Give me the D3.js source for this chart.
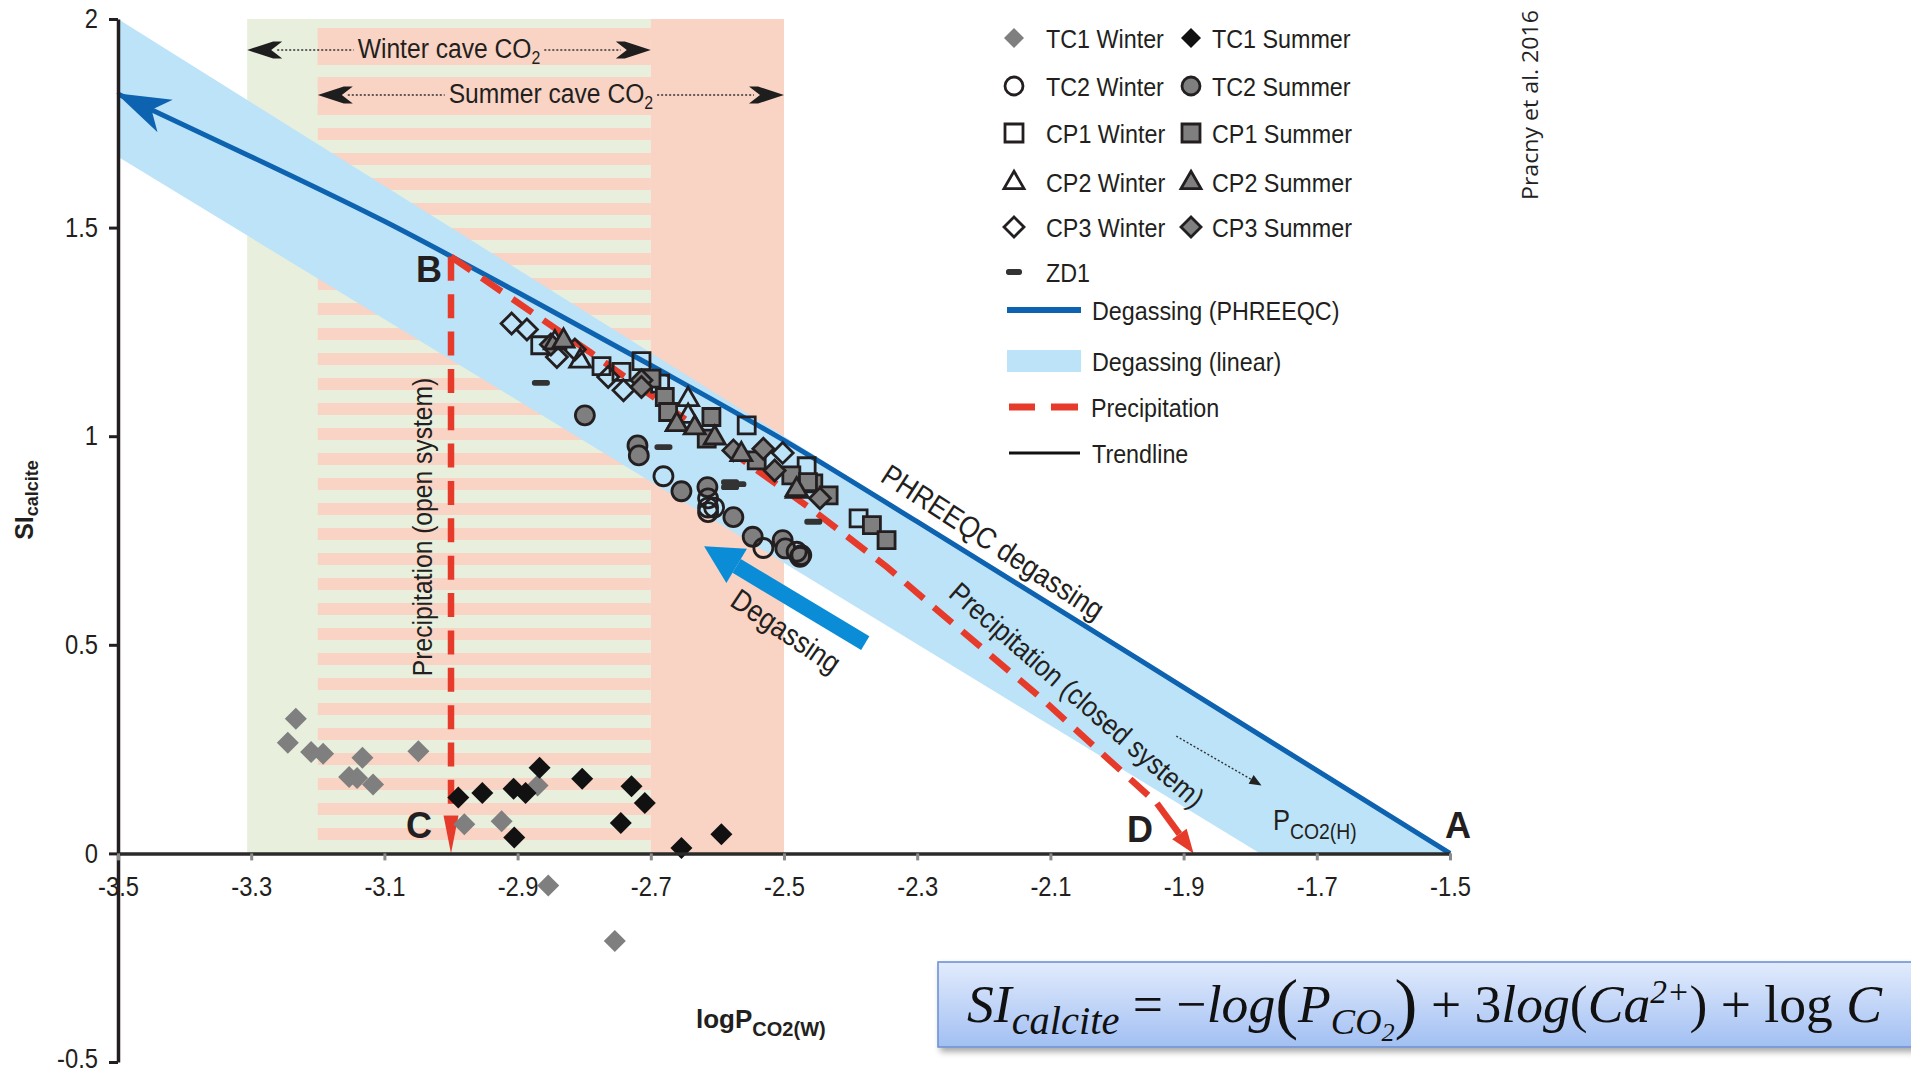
<!DOCTYPE html>
<html><head><meta charset="utf-8">
<script src="https://cdn.jsdelivr.net/npm/d3@7"></script>
<style>
body{margin:0;background:#fff;}
svg{display:block;font-family:"Liberation Sans",Arial,sans-serif;}
</style></head><body>
<svg id="chart" width="1911" height="1073"></svg>
<script>
// ---------------- DATA ----------------
const xTicks = [-3.5,-3.3,-3.1,-2.9,-2.7,-2.5,-2.3,-2.1,-1.9,-1.7,-1.5];
const yTicks = [2,1.5,1,0.5,0,-0.5];
const winterRange = [-3.306,-2.7];
const summerRange = [-3.2,-2.5];
const phreeqcX = [-3.5,-3.3,-3.1,-2.9,-2.7,-2.5,-2.3,-2.1,-1.9,-1.7,-1.5];
const phreeqcY = [1.82,1.67,1.515,1.345,1.17,0.99,0.795,0.597,0.398,0.199,0];
const bandPoly = [[-3.5,2.0],[-1.5,0],[-1.785,0],[-3.5,1.67]];
const precipOpen = [[-3.0,1.43],[-3.0,0.09]];
const precipOpenHead = [[-3.0,0.09],[-3.0,0]];
const precipClosed = [[-3.0,1.43],[-2.79,1.20],[-2.59,0.975],[-2.456,0.822],[-2.345,0.686],[-2.264,0.575],[-2.116,0.375],[-1.94,0.12]];
const precipClosedHead = [[-1.94,0.12],[-1.885,0.0]];
const degassArrow = [[-2.378,0.504],[-2.62,0.736]];
const pco2hArrow = [[-1.911,0.281],[-1.783,0.163]];

const tc1Winter = [[-3.233,0.323],[-3.245,0.265],[-3.21,0.243],[-3.192,0.239],[-3.133,0.229],[-3.153,0.183],[-3.141,0.181],[-3.117,0.165],[-3.049,0.245],[-2.98,0.07],[-2.924,0.077],[-2.87,0.163],[-2.854,-0.077],[-2.754,-0.21]];
const tc1Summer = [[-2.989,0.134],[-2.953,0.145],[-2.906,0.155],[-2.888,0.145],[-2.867,0.205],[-2.803,0.179],[-2.729,0.161],[-2.709,0.121],[-2.745,0.073],[-2.905,0.038],[-2.654,0.013],[-2.594,0.046]];
const tc2Winter = [[-2.681,0.904],[-2.614,0.851],[-2.614,0.829],[-2.605,0.829],[-2.614,0.818],[-2.531,0.732],[-2.481,0.723],[-2.474,0.715]];
const tc2Summer = [[-2.799,1.05],[-2.72,0.978],[-2.718,0.954],[-2.654,0.868],[-2.615,0.878],[-2.576,0.806],[-2.547,0.759],[-2.502,0.751],[-2.498,0.731],[-2.476,0.711]];
const cp1Winter = [[-2.866,1.218],[-2.774,1.168],[-2.744,1.154],[-2.714,1.18],[-2.686,1.126],[-2.556,1.026],[-2.466,0.928],[-2.388,0.803]];
const cp1Summer = [[-2.456,0.887],[-2.433,0.858],[-2.368,0.787],[-2.346,0.751],[-2.489,0.906],[-2.609,1.046],[-2.679,1.094],[-2.674,1.058],[-2.541,0.942],[-2.464,0.89],[-2.616,0.994],[-2.699,1.138]];
const cp2Winter = [[-2.844,1.226],[-2.806,1.182],[-2.644,1.09],[-2.644,1.05],[-2.661,1.03],[-2.481,0.87]];
const cp2Summer = [[-2.831,1.23],[-2.661,1.03],[-2.634,1.022],[-2.604,0.998],[-2.564,0.958],[-2.481,0.874]];
const cp3Winter = [[-2.909,1.27],[-2.886,1.256],[-2.841,1.19],[-2.814,1.208],[-2.764,1.142],[-2.741,1.11],[-2.502,0.96]];
const cp3Summer = [[-2.576,0.966],[-2.531,0.97],[-2.514,0.918],[-2.446,0.851],[-2.714,1.134],[-2.714,1.118],[-2.85,1.22]];
const zd1 = [[-2.865,1.128],[-2.681,0.974],[-2.581,0.89],[-2.581,0.878],[-2.57,0.885],[-2.456,0.795]];

// ---------------- SETUP ----------------
const svg = d3.select('#chart');
const x = d3.scaleLinear().domain([-3.5,-1.5]).range([118,1450]);
const y = d3.scaleLinear().domain([-0.5,2]).range([1062,19]);
const GREEN='#e8efdd', SALMON='#f9d3c4', BAND='#bde3f8', DBLUE='#0d63b0', RED='#e63b2a',
      GREY='#7f7f7f', INK='#231f20', ABLUE='#0a8cd6';
const FONT='"Liberation Sans",Arial,sans-serif';
const NX=0.88;
const defs = svg.append('defs');

// ---------------- BACKGROUND ----------------
const bg = svg.append('g');
bg.append('rect').attr('x',x(winterRange[0])).attr('y',y(2)).attr('width',x(winterRange[1])-x(winterRange[0]))
  .attr('height',y(0)-y(2)).attr('fill',GREEN);
bg.append('rect').attr('x',x(winterRange[1])).attr('y',y(2)).attr('width',x(summerRange[1])-x(winterRange[1]))
  .attr('height',y(0)-y(2)).attr('fill',SALMON);
const sx0=x(summerRange[0]), sx1=x(winterRange[1]);
d3.range(0,33).forEach(k=>{
  bg.append('rect').attr('x',sx0).attr('y',28+25*k).attr('width',sx1-sx0).attr('height',12).attr('fill',SALMON);
});
bg.append('rect').attr('x',sx0).attr('y',28).attr('width',sx1-sx0).attr('height',37).attr('fill',SALMON);
bg.append('rect').attr('x',sx0).attr('y',77).attr('width',sx1-sx0).attr('height',38).attr('fill',SALMON);

// ---------------- BAND ----------------
svg.append('path').attr('d', d3.line()(bandPoly.map(p=>[x(p[0]),y(p[1])]))+'Z').attr('fill',BAND);

// ---------------- PHREEQC line ----------------
defs.append('marker').attr('id','blueHead').attr('markerUnits','userSpaceOnUse')
  .attr('viewBox','-56 -22 58 44').attr('refX',0).attr('refY',0)
  .attr('markerWidth',58).attr('markerHeight',44).attr('orient','auto-start-reverse')
  .append('path').attr('d','M2,0 L-52,-18 L-37,0 L-52,18 Z').attr('fill',DBLUE);
const pq = phreeqcX.map((v,i)=>[v,phreeqcY[i]]);
svg.append('path').attr('d', d3.line().x(d=>x(d[0])).y(d=>y(d[1])).curve(d3.curveMonotoneX)(pq))
  .attr('fill','none').attr('stroke',DBLUE).attr('stroke-width',5).attr('marker-start','url(#blueHead)');

function head(g, from, tip, len, hw, fill){
  const dx=tip[0]-from[0], dy=tip[1]-from[1], L=Math.hypot(dx,dy);
  const ux=dx/L, uy=dy/L, nx=-uy, ny=ux;
  const bx=tip[0]-ux*len, by=tip[1]-uy*len;
  g.append('path').attr('d',`M${tip[0]},${tip[1]}L${bx+nx*hw},${by+ny*hw}L${bx-nx*hw},${by-ny*hw}Z`).attr('fill',fill);
  return [bx,by];
}
const px = p=>[x(p[0]),y(p[1])];

// ---------------- RED precipitation ----------------
const redG = svg.append('g');
const lin = d3.line().x(d=>x(d[0])).y(d=>y(d[1]));
function dashed(pts){
  const p=redG.append('path').attr('d',lin(pts)).attr('fill','none').attr('stroke',RED).attr('stroke-width',6.5);
  const L=p.node().getTotalLength();
  const n=Math.max(1,Math.round((L-24-12)/38));
  const P=(L-24-12)/n;
  p.attr('stroke-dasharray',`24 ${P-24}`);
}
dashed(precipOpen);
dashed(precipClosed);
{
  const tip=px(precipOpenHead[1]);
  head(redG,[tip[0],tip[1]-50],tip,38,7.5,RED);
}
{
  const a=px(precipClosedHead[0]), b=px(precipClosedHead[1]);
  const base=head(redG,a,b,24,9,RED);
  redG.append('line').attr('x1',a[0]).attr('y1',a[1]).attr('x2',base[0]).attr('y2',base[1]).attr('stroke',RED).attr('stroke-width',6.5);
}

// ---------------- DATA MARKERS ----------------
const diamondPath = s => { const r=s/2; return `M0,${-r}L${r},0L0,${r}L${-r},0Z`; };
const shapes = {
  diamond: s=>diamondPath(s),
  circle: s=>d3.symbol().type(d3.symbolCircle).size(Math.PI*(s/2)*(s/2))(),
  square: s=>`M${-s/2},${-s/2}h${s}v${s}h${-s}Z`,
  triangle: s=>{const h=s*0.87; return `M0,${-h*0.62}L${s/2},${h*0.38}L${-s/2},${h*0.38}Z`;}
};
const series = [
  {name:'TC2 Summer', data:tc2Summer, shape:'circle', size:19, fill:GREY, stroke:INK},
  {name:'TC2 Winter', data:tc2Winter, shape:'circle', size:19, fill:'none', stroke:INK},
  {name:'CP1 Winter', data:cp1Winter, shape:'square', size:17, fill:'none', stroke:INK},
  {name:'CP1 Summer', data:cp1Summer, shape:'square', size:17, fill:GREY, stroke:INK},
  {name:'CP3 Winter', data:cp3Winter, shape:'diamond', size:21, fill:'none', stroke:INK},
  {name:'CP3 Summer', data:cp3Summer, shape:'diamond', size:21, fill:GREY, stroke:INK},
  {name:'CP2 Winter', data:cp2Winter, shape:'triangle', size:21, fill:'none', stroke:INK},
  {name:'CP2 Summer', data:cp2Summer, shape:'triangle', size:21, fill:GREY, stroke:INK},
  {name:'ZD1', data:zd1, shape:'dash', size:18, fill:'#333', stroke:'none'},
  {name:'TC1 Winter', data:tc1Winter, shape:'diamond', size:22, fill:GREY, stroke:'none'},
  {name:'TC1 Summer', data:tc1Summer, shape:'diamond', size:22, fill:'#111', stroke:'none'}
];
function drawMarker(g, s, cx, cy, sz){
  const size = sz||s.size;
  if(s.shape==='dash'){
    g.append('rect').attr('x',cx-size/2).attr('y',cy-2.9).attr('width',size).attr('height',5.8)
      .attr('rx',2.6).attr('fill',s.fill);
  } else {
    g.append('path').attr('d',shapes[s.shape](size)).attr('transform',`translate(${cx},${cy})`)
      .attr('fill',s.fill).attr('stroke',s.stroke).attr('stroke-width',2.8).attr('stroke-linejoin','miter');
  }
}
const mg = svg.append('g');
series.forEach(s=>{ s.data.forEach(d=>drawMarker(mg,s,x(d[0]),y(d[1]))); });

// ---------------- AXES ----------------
const yAx = svg.append('g').attr('transform',`translate(${x(-3.5)},0)`)
  .call(d3.axisLeft(y).tickValues(yTicks).tickSize(9).tickSizeOuter(0).tickPadding(13.7).tickFormat(d=>String(d)));
yAx.select('.domain').attr('stroke',INK).attr('stroke-width',3.5);
yAx.selectAll('.tick line').attr('stroke',INK).attr('stroke-width',3);
yAx.selectAll('.tick text').attr('font-size',27).attr('font-family',FONT).attr('fill',INK).attr('transform',`scale(${NX},1)`)
  .filter(d=>d===-0.5).attr('dy','0.2em');

const xAx = svg.append('g').attr('transform',`translate(0,${y(0)})`)
  .call(d3.axisBottom(x).tickValues(xTicks).tickSize(7).tickSizeOuter(0).tickPadding(16).tickFormat(d=>d.toFixed(1)));
xAx.select('.domain').attr('stroke','#2a2a2a').attr('stroke-width',3.5);
xAx.selectAll('.tick line').attr('stroke','#8a8a8a').attr('stroke-width',3);
xAx.selectAll('.tick text').attr('font-size',27).attr('font-family',FONT).attr('fill',INK).attr('transform',`scale(${NX},1)`);

// axis titles
const yt = svg.append('text').attr('transform','translate(27,500) rotate(-90)').attr('text-anchor','middle')
  .attr('font-weight','bold').attr('font-family',FONT).attr('fill',INK).attr('dy','0.35em');
yt.append('tspan').attr('font-size',25).text('SI');
yt.append('tspan').attr('font-size',18).attr('dy',5).text('calcite');
const xt = svg.append('text').attr('x',696).attr('y',1028).attr('font-weight','bold').attr('font-family',FONT).attr('fill',INK);
xt.append('tspan').attr('font-size',26).text('logP');
xt.append('tspan').attr('font-size',20).attr('dy',8).text('CO2(W)');

// ---------------- Cave CO2 arrows ----------------
function chevron(g, tx, ty, dir){
  const pts=[[0,0],[26,-8.5],[35,-8.5],[24,0],[35,8.5],[26,8.5]].map(p=>[tx+dir*p[0],ty+p[1]]);
  g.append('path').attr('d','M'+pts.join('L')+'Z').attr('fill','#1e1e1e');
}
function caveArrow(range, yy, baseline, lbl){
  const g=svg.append('g');
  const x0=x(range[0]), x1=x(range[1]);
  const cx = (x0+x1)/2;
  const t=g.append('text').attr('text-anchor','middle').attr('font-family',FONT).attr('font-size',28).attr('fill',INK)
    .attr('transform',`translate(${cx},${baseline}) scale(${NX},1)`);
  t.append('tspan').text(lbl);
  t.append('tspan').attr('font-size',18).attr('dy',6).text('2');
  const w=t.node().getComputedTextLength()*NX;
  g.append('line').attr('x1',x0+30).attr('x2',cx-w/2-4).attr('y1',yy).attr('y2',yy).attr('stroke','#333').attr('stroke-width',1.3).attr('stroke-dasharray','2 2');
  g.append('line').attr('x1',cx+w/2+4).attr('x2',x1-30).attr('y1',yy).attr('y2',yy).attr('stroke','#333').attr('stroke-width',1.3).attr('stroke-dasharray','2 2');
  chevron(g,x0,yy,1); chevron(g,x1,yy,-1);
}
caveArrow(winterRange, 50, 58, 'Winter cave CO');
caveArrow(summerRange, 95, 103, 'Summer cave CO');

// ---------------- Annotations ----------------
function label(txt, tx, ty, opts){
  const sc = opts.bold?1:NX;
  return svg.append('text').attr('font-family',FONT).attr('fill',INK).attr('font-size',opts.size||26)
    .attr('font-weight',opts.bold?'bold':null).attr('text-anchor','middle')
    .attr('transform',`translate(${tx},${ty}) rotate(${opts.rot||0}) scale(${sc},1)`).attr('dy',opts.dy||null).text(txt);
}
label('B',429,282,{size:36,bold:true});
label('C',419,838,{size:36,bold:true});
label('D',1140,842,{size:36,bold:true});
label('A',1458,838,{size:36,bold:true});
label('PHREEQC degassing',993,542,{size:30,rot:33,dy:'0.35em'});
label('Precipitation (closed system)',1077,695,{size:29,rot:41,dy:'0.35em'});
label('Degassing',786,631,{size:30,rot:34,dy:'0.35em'});
label('Precipitation (open system)',432,527,{size:28,rot:-90});
{
  const t=svg.append('text').attr('transform',`translate(1273,830) scale(${NX},1)`).attr('font-family',FONT).attr('fill',INK);
  t.append('tspan').attr('font-size',29).text('P');
  t.append('tspan').attr('font-size',22).attr('dy',9).text('CO2(H)');
}
{
  const a=px(degassArrow[0]), b=px(degassArrow[1]);
  const base=head(svg,a,b,38,20,ABLUE);
  svg.append('line').attr('x1',a[0]).attr('y1',a[1]).attr('x2',base[0]).attr('y2',base[1]).attr('stroke',ABLUE).attr('stroke-width',16);
}
{
  const a=px(pco2hArrow[0]), b=px(pco2hArrow[1]);
  const base=head(svg,a,b,12,5,'#222');
  svg.append('line').attr('x1',a[0]).attr('y1',a[1]).attr('x2',base[0]).attr('y2',base[1]).attr('stroke','#333').attr('stroke-width',1.3).attr('stroke-dasharray','2 2');
}

// ---------------- LEGEND ----------------
const lg = svg.append('g').attr('font-family',FONT).attr('font-size',26.5).attr('fill',INK);
const legRows = [
  ['TC1 Winter','TC1 Summer'],['TC2 Winter','TC2 Summer'],['CP1 Winter','CP1 Summer'],
  ['CP2 Winter','CP2 Summer'],['CP3 Winter','CP3 Summer'],['ZD1',null]
];
const legY = [38,86,133,182,227,272];
function legText(tx,ty,txt){
  lg.append('text').attr('transform',`translate(${tx},${ty}) scale(${NX},1)`).attr('dy','0.36em').text(txt);
}
legRows.forEach((row,i)=>{
  row.forEach((nm,j)=>{
    if(!nm) return;
    const s=series.find(d=>d.name===nm);
    const mx = j===0?1014:1191, tx = j===0?1046:1212;
    const sz = s.shape==='diamond'?20:(s.shape==='dash'?16:(s.shape==='triangle'?20:18));
    drawMarker(lg, s, mx, legY[i], sz);
    legText(tx, legY[i], nm);
  });
});
lg.append('line').attr('x1',1007).attr('x2',1081).attr('y1',310).attr('y2',310).attr('stroke',DBLUE).attr('stroke-width',6);
legText(1092,310,'Degassing (PHREEQC)');
lg.append('rect').attr('x',1007).attr('y',350).attr('width',74).attr('height',22).attr('fill',BAND);
legText(1092,361,'Degassing (linear)');
lg.append('line').attr('x1',1009).attr('x2',1035).attr('y1',407).attr('y2',407).attr('stroke',RED).attr('stroke-width',7);
lg.append('line').attr('x1',1051).attr('x2',1078).attr('y1',407).attr('y2',407).attr('stroke',RED).attr('stroke-width',7);
legText(1091,407,'Precipitation');
lg.append('line').attr('x1',1009).attr('x2',1080).attr('y1',453).attr('y2',453).attr('stroke','#111').attr('stroke-width',3);
legText(1092,453,'Trendline');

// citation
svg.append('text').attr('transform','translate(1538,105) rotate(-90)').attr('text-anchor','middle')
  .attr('font-family','"Open Sans","Noto Sans",sans-serif').attr('font-size',22).attr('fill','#222')
  .attr('textLength',190).attr('lengthAdjust','spacingAndGlyphs').text('Pracny et al. 2016');

// ---------------- FORMULA BOX ----------------
const grad=defs.append('linearGradient').attr('id','fgrad').attr('x1',0).attr('y1',0).attr('x2',0).attr('y2',1);
grad.append('stop').attr('offset','0%').attr('stop-color','#e2ebfc');
grad.append('stop').attr('offset','100%').attr('stop-color','#a2c0f3');
const flt=defs.append('filter').attr('id','shadow').attr('x','-5%').attr('y','-20%').attr('width','120%').attr('height','160%');
flt.append('feDropShadow').attr('dx',3).attr('dy',4).attr('stdDeviation',3).attr('flood-color','#000').attr('flood-opacity',0.35);
svg.append('rect').attr('x',938).attr('y',962).attr('width',990).attr('height',85)
  .attr('fill','url(#fgrad)').attr('stroke','#6f93d3').attr('stroke-width',1.6).attr('filter','url(#shadow)');
const ft=svg.append('text').attr('x',967).attr('y',1022).attr('font-family','"Liberation Serif","DejaVu Serif",serif')
  .attr('font-size',53).attr('font-style','italic').attr('fill','#111');
const parts=[
 ['SI',{}],['calcite',{fs:40,dy:12}],[' = \u2212',{dy:-12,st:'normal'}],['log',{}],
 ['(',{fs:68,st:'normal',dy:4}],['P',{dy:-4}],['CO',{fs:36,dy:12}],['2',{fs:26,dy:7}],
 [')',{fs:68,st:'normal',dy:-15}],[' + 3',{st:'normal',dy:-4}],['log',{}],['(',{st:'normal'}],
 ['Ca',{}],['2+',{fs:33,dy:-19}],[')',{st:'normal',dy:19}],[' + log ',{st:'normal'}],['C',{}]
];
parts.forEach(([t,o])=>{
  const ts=ft.append('tspan').text(t);
  if(o.fs) ts.attr('font-size',o.fs);
  if(o.dy) ts.attr('dy',o.dy);
  if(o.st) ts.attr('font-style',o.st);
});
ft.attr('textLength',915).attr('lengthAdjust','spacingAndGlyphs');
</script>
</body></html>
